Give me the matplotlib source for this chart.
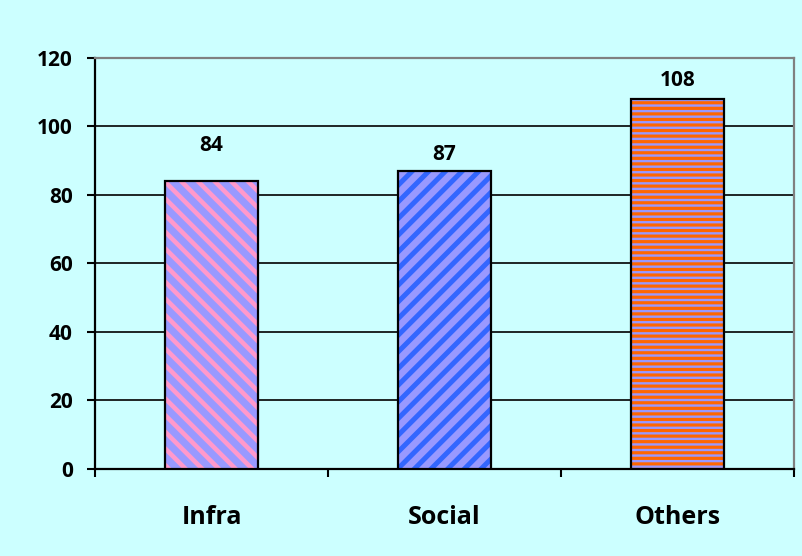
import matplotlib
matplotlib.use("Agg")
import numpy as np
import matplotlib.pyplot as plt

categories = ["Infra", "Social", "Others"]
values = [84, 87, 108]
yticks = [0, 20, 40, 60, 80, 100, 120]

fill_colors = ["#9999FF", "#9999FF", "#9999FF"]
stripe_colors = ["#FF99CC", "#3366FF", "#FF6600"]
hatches = ["\\\\", "//", "---"]
hatch_widths = [3.3, 3.6, 2.3]
label_offsets = [18, 4, 6]  # points above bar top

bg = "#CCFFFF"
plt.rcParams['font.family'] = ['Open Sans', 'DejaVu Sans']
plt.rcParams['font.weight'] = 'bold'

fig = plt.figure(figsize=(8.02, 5.56), dpi=100, facecolor=bg)
ax = fig.add_axes([0.1185, 0.1565, 0.8715, 0.7392], facecolor=bg)

x = np.arange(len(categories))
width = 0.4
for i in range(len(categories)):
    plt.rcParams['hatch.linewidth'] = hatch_widths[i]
    bars = ax.bar(x[i], values[i], width, color=fill_colors[i], edgecolor=stripe_colors[i],
                  hatch=hatches[i], linewidth=0, zorder=3)
    for b in bars:
        if hasattr(b, 'set_hatch_linewidth'):
            b.set_hatch_linewidth(hatch_widths[i])
ax.bar(x, values, width, fill=False, edgecolor='black', linewidth=1.6, zorder=4)

for i, v in enumerate(values):
    ax.annotate(str(v), (x[i], v), xytext=(0, label_offsets[i]), textcoords='offset points',
                ha='center', va='bottom', fontsize=15, fontweight='bold')

ax.set_xlim(-0.5, len(categories) - 0.5)
ax.set_ylim(0, 120)
ax.set_yticks(yticks)
ax.set_yticklabels([str(t) for t in yticks], fontsize=15, fontweight='bold')
ax.tick_params(axis='y', length=6, width=1.5, pad=10, direction='out')

ax.set_xticks(np.arange(-0.5, len(categories), 1.0))
ax.set_xticklabels([])
ax.tick_params(axis='x', which='major', length=6, width=1.5, direction='out')
ax.set_xticks(x, minor=True)
ax.set_xticklabels(categories, minor=True, fontsize=18, fontweight='bold')
ax.tick_params(axis='x', which='minor', length=0, pad=26)

ax.yaxis.grid(True, color='black', linewidth=1.2, zorder=1)
ax.set_axisbelow(True)

for s in ['left', 'bottom']:
    ax.spines[s].set_color('black')
    ax.spines[s].set_linewidth(1.6)
for s in ['top', 'right']:
    ax.spines[s].set_color('#808080')
    ax.spines[s].set_linewidth(1.6)

fig.savefig("out.png", dpi=100, facecolor=bg)
